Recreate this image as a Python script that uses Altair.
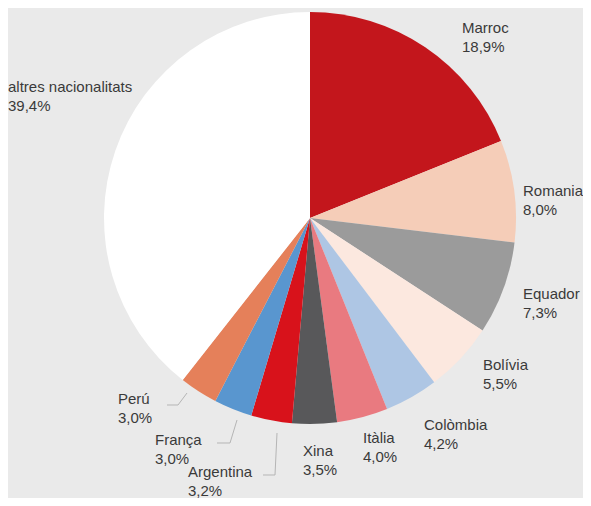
import altair as alt
import pandas as pd

# Data
countries = ["Marroc", "Romania", "Equador", "Bolívia", "Colòmbia", "Itàlia",
             "Xina", "Argentina", "França", "Perú", "altres nacionalitats"]
shares = [18.9, 8.0, 7.3, 5.5, 4.2, 4.0, 3.5, 3.2, 3.0, 3.0, 39.4]
colors = ["#c3161c", "#f5cdb8", "#9b9b9b", "#fce8df", "#aec6e4", "#e97a80",
          "#58585a", "#d8121b", "#5996cf", "#e5805a", "#ffffff"]

# Layout (pixel offsets of label anchors from the pie centre)
R = 206
label_dx = [152, 213, 213, 173, 114, 53, -7, -122, -155, -192, -302]
label_dy = [-185, -22, 81, 152, 212, 225, 238, 259, 227, 186, -126]
leader_dx = [[-123, -132, -143], [-73, -80, -93], [-33, -35, -47]]
leader_dy = [[175, 187, 187], [202, 225, 225], [215, 257, 257]]

df = pd.DataFrame({
    "country": countries,
    "share": shares,
    "order": list(range(len(countries))),
    "label": [f"{c}\n{str(f'{v:.1f}').replace('.', ',')}%" for c, v in zip(countries, shares)],
    "lx": [R + d for d in label_dx],
    "ly": [R + d for d in label_dy],
})

rows = []
for i, (xs, ys) in enumerate(zip(leader_dx, leader_dy)):
    for j, (a, b) in enumerate(zip(xs, ys)):
        rows.append({"g": i, "k": j, "x": R + a, "y": R + b})
leaders = pd.DataFrame(rows)

pie = alt.Chart(df).mark_arc(outerRadius=R, strokeWidth=0).encode(
    theta=alt.Theta("share:Q", stack=True),
    order=alt.Order("order:Q"),
    color=alt.Color("country:N", scale=alt.Scale(domain=countries, range=colors), legend=None),
)

labels = alt.Chart(df).mark_text(
    align="left", baseline="alphabetic", fontSize=15, lineHeight=19,
    lineBreak="\n", font="Liberation Sans", color="#3a3a3a",
).encode(
    x=alt.X("lx:Q", scale=None),
    y=alt.Y("ly:Q", scale=None),
    text="label:N",
)

lines = alt.Chart(leaders).mark_line(color="#b5b5b5", strokeWidth=1).encode(
    x=alt.X("x:Q", scale=None),
    y=alt.Y("y:Q", scale=None),
    detail="g:N",
    order="k:Q",
)

chart = alt.layer(pie, lines, labels).properties(
    width=412, height=412,
    padding={"left": 96, "top": 4, "right": 67, "bottom": 74},
    autosize=alt.AutoSizeParams(type="none"),
    background="#eaeaea",
).configure_view(stroke=None)

chart.save("out.html", embed_options={"renderer": "svg", "actions": False})
